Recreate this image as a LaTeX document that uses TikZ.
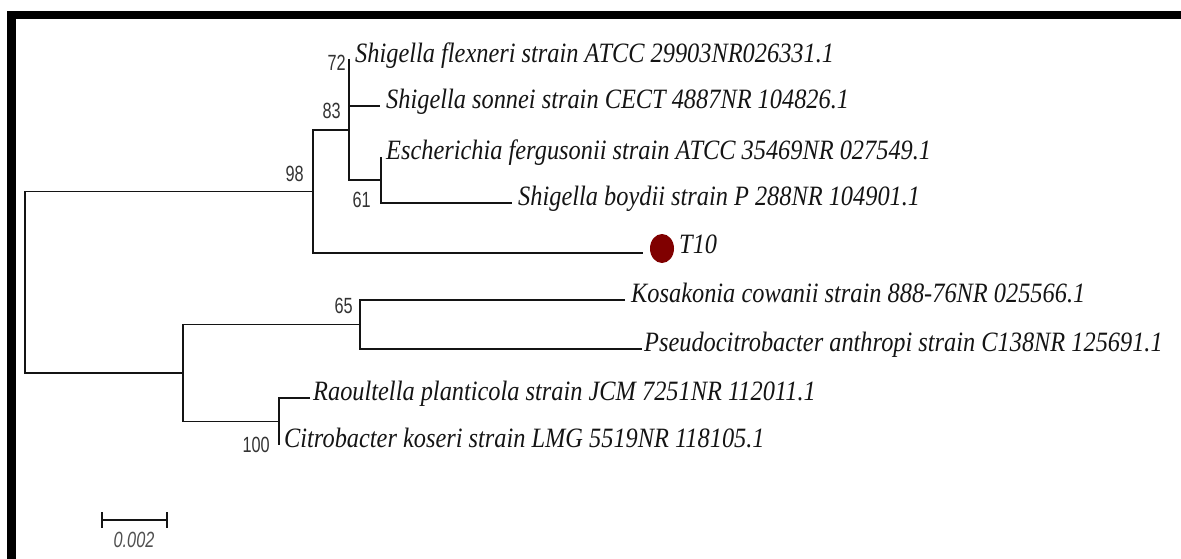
\documentclass[tikz,border=0pt]{standalone}
\usepackage{fontspec}
\usetikzlibrary{shapes.geometric}
\newfontfamily\taxfont[FakeStretch=0.87, ItalicFont={Liberation Serif Italic}]{Liberation Serif}
\newfontfamily\bootfont[FakeStretch=0.74]{Liberation Sans}
\definecolor{dotred}{HTML}{800000}
\definecolor{ink}{HTML}{141414}
\definecolor{bootgray}{HTML}{333333}
\definecolor{scalegray}{HTML}{505050}
\begin{document}
\begin{tikzpicture}[x=1pt,y=-1pt,
  branch/.style={draw=ink, line width=1.4pt},
  taxon/.style={anchor=mid west, inner sep=0pt, text=ink, font=\taxfont\itshape\fontsize{28}{28}\selectfont},
  boot/.style={anchor=east, inner sep=0pt, text=bootgray, font=\bootfont\fontsize{22}{22}\selectfont},
  scalelbl/.style={inner sep=0pt, text=scalegray, font=\bootfont\itshape\fontsize{22}{22}\selectfont},
  frame/.style={fill=black},
  sampledot/.style={ellipse, fill=dotred, minimum width=24pt, minimum height=29pt, inner sep=0pt}]
\useasboundingbox (0,0) rectangle (1181,559);
% frame
\fill[frame] (7,11) rectangle (1181,19);
\fill[frame] (7,11) rectangle (16,559);
% internal nodes
\coordinate (root) at (25,282);
\coordinate (A) at (313,191.5);
\coordinate (B) at (349,130);
\coordinate (N72) at (349,83);
\coordinate (N61) at (381,180);
\coordinate (C) at (183,373);
\coordinate (D) at (360,324.5);
\coordinate (E) at (279,421.5);
% tips
\coordinate (tFlex) at (349,59);
\coordinate (tSonn) at (380,106);
\coordinate (tFerg) at (381,157);
\coordinate (tBoyd) at (512,203);
\coordinate (tT10) at (643,253);
\coordinate (tKosa) at (625,300);
\coordinate (tPseu) at (642,349);
\coordinate (tRaou) at (310,398);
\coordinate (tCitr) at (279,445);
% branches
\draw[branch] (A) -| (root) |- (C);
\draw[branch] (B) -| (A) |- (tT10);
\draw[branch] (tFlex) -- (N72) -- (B) |- (N61);
\draw[branch] (N72) |- (tSonn);
\draw[branch] (tFerg) -- (N61) |- (tBoyd);
\draw[branch] (D) -| (C) |- (E);
\draw[branch] (tKosa) -| (D) |- (tPseu);
\draw[branch] (tRaou) -| (E) -- (tCitr);
% taxon labels
\node[taxon] (lFlex) at (355,60) {Shigella flexneri strain ATCC 29903NR026331.1};
\node[taxon] (lSonn) at (386,106) {Shigella sonnei strain CECT 4887NR 104826.1};
\node[taxon] (lFerg) at (386,157) {Escherichia fergusonii strain ATCC 35469NR 027549.1};
\node[taxon] (lBoyd) at (518,203) {Shigella boydii strain P 288NR 104901.1};
\node[sampledot] (dot) at (662,248.5) {};
\node[taxon] (lT10) at (679,251) {T10};
\node[taxon] (lKosa) at (631,300) {Kosakonia cowanii strain 888-76NR 025566.1};
\node[taxon] (lPseu) at (644,349) {Pseudocitrobacter anthropi strain C138NR 125691.1};
\node[taxon] (lRaou) at (313,398) {Raoultella planticola strain JCM 7251NR 112011.1};
\node[taxon] (lCitr) at (284,445) {Citrobacter koseri strain LMG 5519NR 118105.1};
% bootstrap values
\node[boot] (b72) at (346,63) {72};
\node[boot] (b83) at (341,111) {83};
\node[boot] (b98) at (304,174) {98};
\node[boot] (b61) at (371,200) {61};
\node[boot] (b65) at (353,306) {65};
\node[boot] (b100) at (270,445) {100};
% scale bar
\coordinate (sbL) at (102,520);
\coordinate (sbR) at (167,520);
\draw[branch] (sbL) -- (sbR);
\draw[branch] (sbL) ++(0,-8) -- ++(0,16);
\draw[branch] (sbR) ++(0,-8) -- ++(0,16);
\node[scalelbl] (sblab) at (134,540) {0.002};
\end{tikzpicture}
\end{document}
